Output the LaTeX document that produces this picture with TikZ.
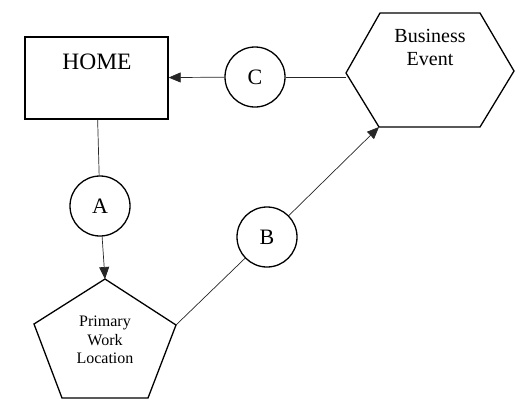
\documentclass[tikz,border=0pt]{standalone}
\usepackage{fontspec}
\setmainfont{Liberation Serif}
\usetikzlibrary{arrows.meta}

\tikzset{
	shapeline/.style = {line width = 1.3pt, line join = miter},
	letter/.style = {draw, circle, line width = 1.3pt, minimum size = 60pt, inner sep = 0pt, font = \fontsize{22}{25}\selectfont},
	link/.style = {line width = 0.7pt, black!85},
	flow/.style = {link, -{Triangle[length = 12pt, width = 10pt]}},
}

\begin{document}
\begin{tikzpicture}[x = 1pt, y = -1pt]
					\useasboundingbox (0,0) rectangle (529,413);

					\coordinate (hexL) at (346,73);
					\coordinate (hexTL) at (380,13);
					\coordinate (hexTR) at (480,13);
					\coordinate (hexR) at (514,71);
					\coordinate (hexBR) at (480,127);
					\coordinate (hexBL) at (379,127);

					\coordinate (penT) at (105,279);
					\coordinate (penL) at (34,324);
					\coordinate (penR) at (176,325);
					\coordinate (penBL) at (62,398);
					\coordinate (penBR) at (148,398);

					\begin{scope}
						\node [draw, shapeline, minimum width = 143pt, minimum height = 82pt] (home) at (96.5,78) {};
						\node [font = \fontsize{23.5}{26}\selectfont] (hometext) at (97,62) {HOME};
						\draw [shapeline] (hexL) -- (hexTL) -- (hexTR) -- (hexR) -- (hexBR) -- (hexBL) -- cycle;
						\node [align = center, font = \fontsize{20}{23}\selectfont] (event) at (430,47) {Business\\Event};
						\draw [shapeline] (penT) -- (penR) -- (penBR) -- (penBL) -- (penL) -- cycle;
						\node [align = center, font = \fontsize{16}{18.5}\selectfont] (work) at (105,340) {Primary\\Work\\Location};
					\end{scope}

					\begin{scope}
						\node [letter] (a) at (100,206) {A};
						\node [letter] (b) at (267,237) {B};
						\node [letter] (c) at (255,77) {C};
					\end{scope}

					\begin{scope}
						\draw [link] (home) -- (a);
						\draw [flow] (a) -- (penT);
						\draw [link] (penR) -- (b);
						\draw [flow] (b) -- (hexBL);
						\draw [link] (c -| hexL) -- (c);
						\draw [flow] (c) -- (home);
					\end{scope}
				\end{tikzpicture}
\end{document}
